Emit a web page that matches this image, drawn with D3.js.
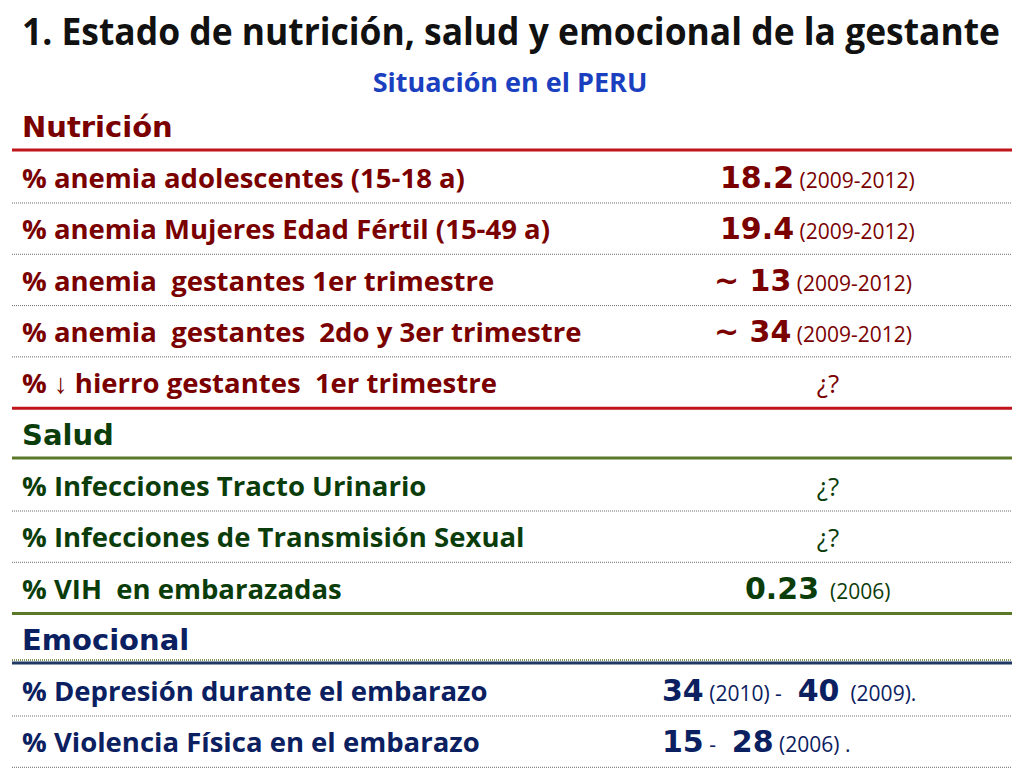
<!DOCTYPE html><html><head><meta charset="utf-8"><script src="https://cdn.jsdelivr.net/npm/d3@7"></script>
<style>body{margin:0;background:#fff}text{white-space:pre}</style></head><body><svg id="c" width="1024" height="768"></svg>
<script>
const sections = ["Nutrición","Salud","Emocional"];
const sectionColors = ["#7a0000","#0b3d0b","#0b2060"];
const ruleColors = ["#c0151b","#5a7a2a","#1f3864"];
const nutricionLabels = ["% anemia adolescentes (15-18 a)","% anemia Mujeres Edad Fértil (15-49 a)","% anemia  gestantes 1er trimestre","% anemia  gestantes  2do y 3er trimestre","% ↓ hierro gestantes  1er trimestre"];
const nutricionValues = [[["18.2",1],[" (2009-2012)",0]],[["19.4",1],[" (2009-2012)",0]],[["~ 13",1],[" (2009-2012)",0]],[["~ 34",1],[" (2009-2012)",0]],[["¿?",2]]];
const saludLabels = ["% Infecciones Tracto Urinario","% Infecciones de Transmisión Sexual","% VIH  en embarazadas"];
const saludValues = [[["¿?",2]],[["¿?",2]],[["0.23",1],["  (2006)",0]]];
const emocionalLabels = ["% Depresión durante el embarazo","% Violencia Física en el embarazo"];
const emocionalValues = [[["34",1],[" (2010)",0],[" - ",0],[" 40",1],["  (2009).",0]],[["15",1],[" - ",0],[" 28",1],[" (2006) .",0]]];
const groups=[[nutricionLabels,nutricionValues],[saludLabels,saludValues],[emocionalLabels,emocionalValues]];
const valueX=[[720,720,714,714,828],[828,828,745],[662,662]];

const svg=d3.select("#c");
const narrow="'Open Sans',sans-serif";
svg.append("text").attr("x",22).attr("y",45).attr("textLength",978).attr("lengthAdjust","spacingAndGlyphs").attr("font-family",narrow).attr("font-weight","bold").attr("font-size",37).attr("fill","#111").text("1. Estado de nutrición, salud y emocional de la gestante");
svg.append("text").attr("x",510).attr("y",92).attr("text-anchor","middle").attr("font-family",narrow).attr("font-weight","bold").attr("font-size",27).attr("fill","#1a3fbf").text("Situación en el PERU");

const headerY=[137,445,650];
const rowStep=51.3;
const rule=(y,c,w,d)=>{const l=svg.append("line").attr("x1",12).attr("x2",1012).attr("y1",y).attr("y2",y).attr("stroke",c).attr("stroke-width",w);if(d)l.attr("stroke-dasharray",d);};
groups.forEach(([labels,vals],g)=>{
  const col=sectionColors[g];
  const hy=headerY[g];
  svg.append("text").attr("x",22).attr("y",hy).attr("font-family","'DejaVu Sans',Verdana,sans-serif").attr("font-weight","bold").attr("font-size",29).attr("fill",col).text(sections[g]);
  const ly=hy+13;
  if(g===2) rule(ly-3,"#5a7a2a",1.5,"1,1");
  rule(ly,ruleColors[g],3);
  labels.forEach((lab,i)=>{
    const by=ly+38+i*rowStep;
    svg.append("text").attr("x",22).attr("y",by).attr("font-family",narrow).attr("font-weight","bold").attr("font-size",27.5).attr("fill",col).text(lab);
    const t=svg.append("text").attr("x",valueX[g][i]).attr("y",by).attr("fill",col).attr("text-anchor",vals[i][0][1]===2?"middle":"start");
    vals[i].forEach(([s,k])=>{
      t.append("tspan").text(s)
       .attr("font-family",k===1?"'DejaVu Sans',Verdana,sans-serif":narrow)
       .attr("font-weight",k===1?"bold":"normal")
       .attr("font-size",k===1?30:k===2?26:21);
    });
    const sy=by+15;
    const last=i===labels.length-1;
    if(!last||g===2) rule(sy,"#6b6b6b",1,"1,1");
    else rule(sy,ruleColors[g],3);
  });
});
</script></body></html>
